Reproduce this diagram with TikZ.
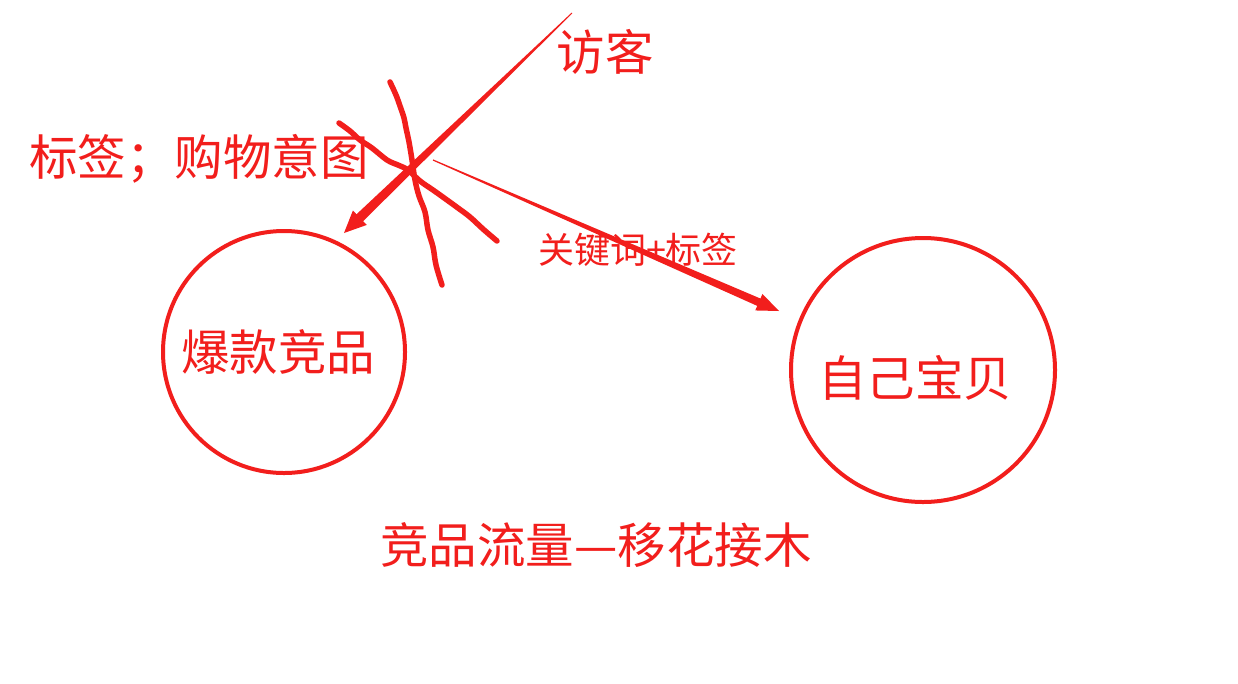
\documentclass[tikz,border=0pt]{standalone}
\usepackage{fontspec}
\setmainfont{Noto Sans CJK SC}
\usetikzlibrary{calc}
\definecolor{pen}{RGB}{242,30,28}
\newcommand\taperarrow[6]{%
  \coordinate (#1-#2-s) at ($(#2)!#5!(#1)$);
  \fill[pen] ($(#1)!#3!90:(#2)$) -- ($(#1-#2-s)!#4!-90:(#1)$) -- ($(#1-#2-s)!#6!-90:(#1)$)
    -- (#2) -- ($(#1-#2-s)!#6!90:(#1)$) -- ($(#1-#2-s)!#4!90:(#1)$) -- ($(#1)!#3!-90:(#2)$) -- cycle;}
\begin{document}
\begin{tikzpicture}[x=1pt,y=-1pt,
  lbl/.style={text=pen,inner sep=0pt,anchor=center},
  big/.style={lbl,font=\fontsize{48.5}{52}\selectfont},
  small/.style={lbl,font=\fontsize{36}{40}\selectfont},
  ring/.style={draw=pen,line width=4pt,circle,inner sep=0pt},
  scrib/.style={draw=pen,line width=5.5pt,line cap=round,line join=round}]
\useasboundingbox[fill=white] (0,0) rectangle (1238,683);
% circles
\node[ring,minimum size=242pt] (c1) at (284,352) {};
\node[ring,minimum size=264pt] (c2) at (923,370) {};
% texts
\node[big] (t1) at (278,352) {爆款竞品};
\node[big] (t2) at (915,378) {自己宝贝};
\node[big] (visitor) at (605,52) {访客};
\node[big] (tags) at (199,159) {标签；购物意图};
\node[small] (kw) at (638,250) {关键词+标签};
\node[big] (title) at (596,545) {竞品流量—移花接木};
% arrows
\coordinate (a1s) at (572,13);
\coordinate (a1e) at (344,233);
\coordinate (a2s) at (433,160);
\coordinate (a2e) at (779,311);
\taperarrow{a1s}{a1e}{0.5pt}{4.8pt}{22pt}{10pt}
\taperarrow{a2s}{a2e}{0.6pt}{4pt}{22pt}{9pt}
% scribbled cross
\draw[scrib] plot[smooth,tension=0.6] coordinates {(390,82) (396,95) (400,106) (404,118) (406,128) (409,142) (412,160) (415,180) (419,196) (425,212) (428,230) (433,247) (436,265) (442,285)};
\draw[scrib] plot[smooth,tension=0.6] coordinates {(339,123) (350,131) (360,140) (372,148) (387,160) (398,165) (408,170) (420,181) (433,190) (447,200) (458,208) (470,217) (483,229) (497,241)};
\end{tikzpicture}
\end{document}
